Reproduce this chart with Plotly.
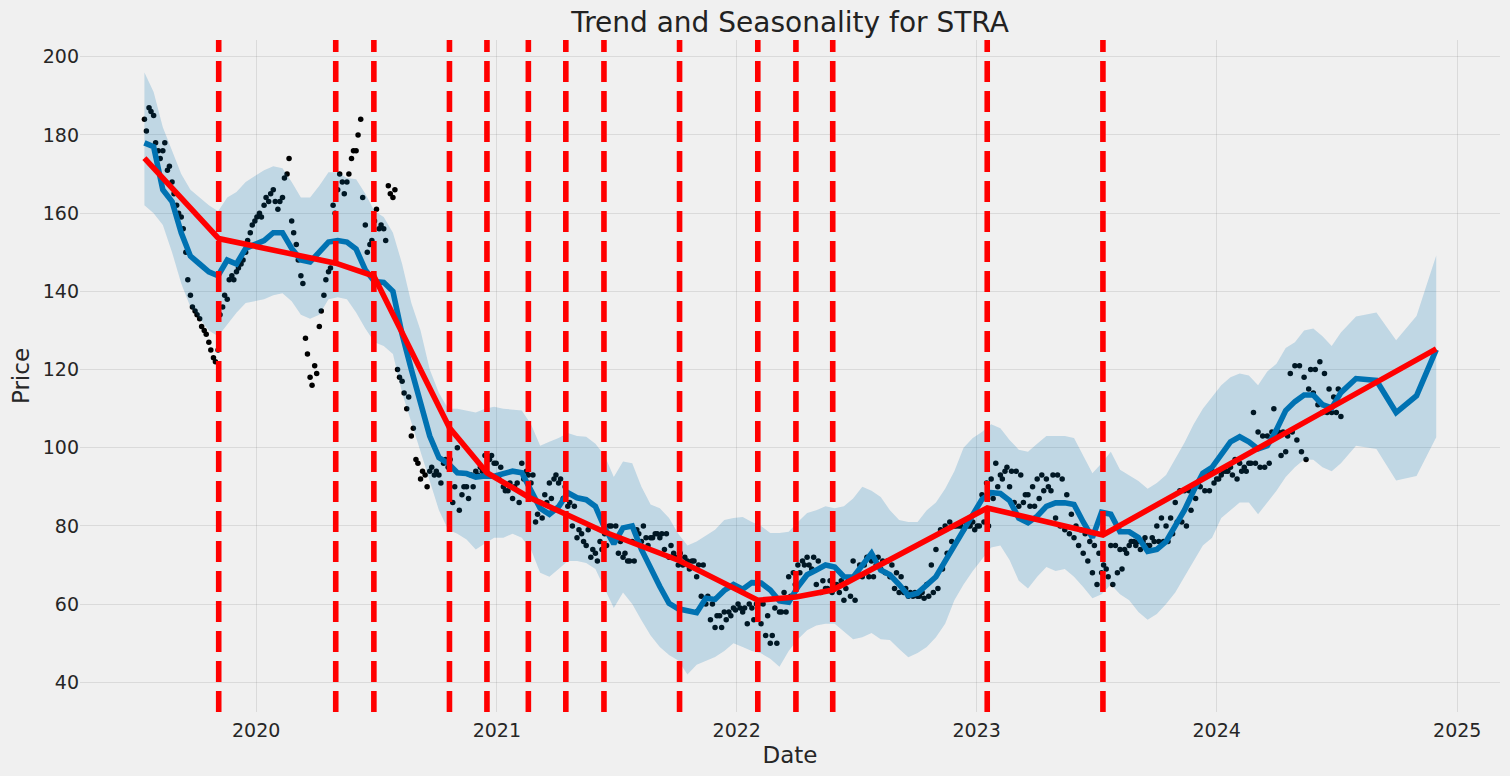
import pandas as pd
import plotly.graph_objects as go

# ---------------- data ----------------
history_start = "2019-07-15"
midweek_start = "2019-07-18"

# observed closing prices (black dots), one reading per week ...
observed_price = [
    184, 187, 185, 176, 176, 171, 168, 162, 159, 150,
    139, 135, 133, 130, 127, 123, 125, 136, 138, 144,
    145, 147, 150, 155, 158, 160, 162, 163, 166, 161,
    164, 170, 158, 152, 144, 128, 118, 121, 131, 139,
    145, 162, 166, 168, 168, 174, 176, 184, 157, 152,
    158, 156, 156, 167, 164, 120, 117, 110, 103, 97,
    92, 93, 94, 93, 93, 96, 95, 86, 100, 88,
    90, 93, 94, 95, 98, 97, 96, 92, 90, 89,
    87, 91, 96, 94, 91, 81, 86, 88, 91, 92,
    91, 87, 85, 80, 77, 78, 75, 72, 73, 76,
    78, 80, 76, 73, 72, 71, 76, 79, 76, 77,
    77, 78, 77, 74, 72, 73, 70, 70, 71, 71,
    67, 62, 60, 56, 54, 57, 58, 58, 59, 60,
    58, 55, 59, 60, 55, 52, 50, 59, 58, 63,
    67, 68, 70, 71, 72, 69, 65, 63, 64, 66,
    65, 63, 61, 66, 71, 68, 67, 72, 71, 70,
    69, 68, 67, 64, 63, 63, 62, 62, 62, 63,
    65, 70, 74, 79, 80, 81, 80, 80, 79, 80,
    81, 80, 88, 91, 92, 96, 93, 94, 90, 86,
    85, 86, 88, 90, 92, 93, 92, 89, 82, 80,
    79, 78, 77, 75, 73, 71, 68, 65, 68, 69,
    75, 75, 74, 74, 75, 76, 76, 76, 75, 77,
    80, 82, 80, 82, 86, 89, 89, 89, 90, 91,
    93, 94, 94, 92, 93, 94, 95, 97, 96, 95,
    96, 109, 104, 103, 103, 104, 103, 98, 99, 119,
    121, 121, 118, 115, 114, 111, 109, 109, 109, 109,
    108,
]
# ... and a second reading in the middle of each week
observed_price_midweek = [
    181, 186, 178, 174, 178, 172, 165, 160, 156, 143,
    136, 134, 131, 129, 125, 122, 134, 139, 143, 143,
    146, 148, 153, 157, 159, 159, 164, 165, 163, 163,
    169, 174, 155, 148, 142, 124, 116, 119, 135, 143,
    146, 160, 170, 165, 170, 176, 180, 164, 150, 153,
    161, 157, 153, 165, 166, 118, 114, 113, 105, 96,
    94, 90, 95, 94, 91, 97, 97, 90, 84, 90,
    87, 90, 93, 94, 98, 98, 96, 95, 89, 91,
    90, 86, 92, 93, 93, 83, 82, 86, 87, 93,
    92, 90, 86, 85, 79, 76, 79, 74, 71, 74,
    75, 80, 80, 76, 73, 71, 71, 78, 80, 75,
    77, 78, 78, 78, 75, 72, 73, 72, 69, 71,
    70, 70, 62, 60, 57, 54, 56, 57, 58.5, 59,
    59, 60, 56, 60, 60, 57, 52, 50, 58, 58,
    62, 65, 68, 70, 70, 72, 71, 66, 64, 63,
    65, 66, 64, 62, 61, 70, 70, 67, 67, 72,
    71, 71, 70, 68, 67, 64, 63, 63, 62, 61.5,
    62, 63, 64, 69, 73, 76, 80, 80, 81, 80,
    79, 80, 81, 80, 87, 90, 92, 95, 94, 94,
    93, 88, 85, 85, 87, 89, 90, 93, 93, 92,
    88, 83, 80, 79, 78, 76, 75, 73, 70, 67,
    65, 68, 69, 73, 76, 75, 74, 77, 75, 76,
    76, 76, 76, 78, 81, 81, 80, 84, 87, 90,
    89, 89, 91, 92, 94, 94, 93, 92, 94, 94,
    96, 96, 95, 95, 96, 110, 104, 104, 103, 104,
    102, 99, 97, 120, 120, 122, 119, 115, 113, 115,
]

# fitted model (blue line) and uncertainty band, every two weeks over the history
yhat_history = [
    178, 177, 166, 163, 155, 149, 147, 145, 144, 148,
    147, 151, 152, 153, 155, 155, 151, 148, 147.5, 150,
    152.6, 153, 152.6, 150.8, 145.5, 142.5, 142.3, 140, 129, 120,
    111.5, 103, 97.5, 96, 93.6, 93.4, 92.5, 92.8, 92.7, 93.3,
    94, 93.6, 89, 84.5, 83, 84.9, 88.5, 87.2, 86.7, 85,
    79.5, 75.4, 79.5, 80, 74, 69, 64.5, 60.2, 58.8, 58.3,
    57.8, 61.5, 61.2, 63.5, 65, 63.8, 65.5, 65.4, 63.6, 60.8,
    60.5, 64.4, 67.5, 68.7, 70, 69.5, 67, 66.9, 70, 73,
    68.7, 67.5, 65, 62.2, 62.8, 65, 67, 71, 75, 79.5,
    83.5, 86.8, 88.5, 88.3, 86.5, 82, 80.8, 82.5, 85, 85.9,
    85.9, 85.5, 81, 77, 83.5, 83, 78.5, 78.5, 77, 73.5,
    74, 76, 80, 84, 89, 93.5, 95, 98, 101.5, 102.8,
    101.5, 99.7, 100.5, 104.6, 109.5, 111.8, 113.5, 113.5, 111, 110.2,
    114.1,
]
upper_history = [
    196, 191, 182, 176, 170, 166, 164, 162, 160.5, 164,
    165.4, 168, 169.5, 171, 172, 171.5, 168, 164, 164, 167,
    170.5, 170.5, 169, 168.7, 165, 160.5, 159, 155, 147, 137,
    130, 120, 114, 110, 110, 109.5, 109, 110, 110.5, 110,
    109.7, 109.5, 106, 100.5, 101.5, 102.5, 103.8, 103, 102.8, 101,
    98, 92.5, 96.5, 96, 90, 85.5, 84.5, 82, 78, 75,
    76, 77.5, 79, 81.5, 82, 82.3, 81, 80, 78.2, 78.2,
    78.5, 81, 83.3, 84, 85, 84.5, 85, 87, 90, 89,
    87.4, 84, 81.5, 81, 81, 84, 86, 89.5, 94, 100,
    102.5, 104, 106, 105, 102, 99.5, 99, 101, 103, 103,
    103, 102.5, 98, 93.5, 96, 99, 94.4, 93, 91.5, 89.5,
    91, 93, 97, 101.3, 106, 110, 113, 116, 118, 119,
    118.5, 116, 119.5, 121.5, 125.5, 127, 130, 130.5, 128.5, 126,
    129.5,
]
lower_history = [
    162, 160, 157, 150, 142, 136, 133, 130, 128.5, 131.5,
    134.5, 137, 137.5, 138, 139, 139.5, 137.5, 134, 133, 134,
    138, 138.5, 138, 134.6, 130.5, 127, 126, 124, 114, 106.5,
    99, 91, 84, 79, 78, 76.5, 74, 75.5, 77, 77,
    78, 77, 74, 68, 67, 69, 71, 71, 70.5, 69,
    64, 59, 63, 60, 55.9, 52, 49, 47, 45.6, 42,
    44.5, 45.5, 46.5, 48, 50, 49, 48, 47.4, 46, 44,
    48, 51, 53.3, 54.5, 55, 55, 53, 51, 51.5, 52.6,
    51, 50.8, 48.5, 46.4, 47.5, 49, 51.5, 55, 61, 65,
    68.5, 71.5, 74.5, 75, 71.3, 66, 64, 67, 69.5, 68.5,
    69, 67, 64.4, 61.5, 62.5, 65, 62.5, 61, 58, 56,
    57.5, 60, 63, 67, 71, 75, 77, 82, 84, 86,
    86, 83, 86, 89, 92.5, 95, 97, 96.9, 95, 94,
    96,
]

# monthly forecast beyond the history
future_dates = ["2024-07-31", "2024-08-31", "2024-09-30", "2024-10-31", "2024-11-30"]
yhat_future = [117.7, 117.2, 109.0, 113.3, 125.1]
upper_future = [133.6, 134.6, 127.5, 133.7, 149.2]
lower_future = [100.5, 99.7, 91.6, 92.8, 102.7]

# trend (piecewise linear) and its changepoints
changepoint_dates = [
    "2019-11-05", "2020-05-01", "2020-06-28", "2020-10-21", "2020-12-17",
    "2021-02-18", "2021-04-16", "2021-06-13", "2021-10-06", "2022-02-02",
    "2022-04-01", "2022-05-27", "2023-01-17", "2023-07-12",
]
trend_at_changepoints = [153.5, 147.2, 143.9, 105.1, 93.6, 87.4, 82.8, 78.5,
                         71.1, 61.0, 61.8, 63.6, 84.6, 77.7]
trend_start_date, trend_start_value = "2019-07-15", 174.1
trend_end_date, trend_end_value = "2024-11-30", 125.3

year_ticks = [2020, 2021, 2022, 2023, 2024, 2025]
price_ticks = [40, 60, 80, 100, 120, 140, 160, 180, 200]

x_range = ["2019-04-08", "2025-03-07"]
y_range = [32.4, 204.3]

# ---------------- build series ----------------
obs_dates = list(pd.date_range(history_start, periods=len(observed_price), freq="7D")) + \
    list(pd.date_range(midweek_start, periods=len(observed_price_midweek), freq="7D"))
obs_values = observed_price + observed_price_midweek
model_dates = list(pd.date_range(history_start, periods=len(yhat_history), freq="14D")) + \
    list(pd.to_datetime(future_dates))
yhat = yhat_history + yhat_future
upper = upper_history + upper_future
lower = lower_history + lower_future
trend_dates = [trend_start_date] + changepoint_dates + [trend_end_date]
trend_values = [trend_start_value] + trend_at_changepoints + [trend_end_value]

BLUE = "#0072B2"
LW = 5.6

fig = go.Figure()
fig.add_trace(go.Scatter(x=obs_dates, y=obs_values, mode="markers",
                         marker=dict(color="black", size=5.5, line=dict(width=0)),
                         showlegend=False))
fig.add_trace(go.Scatter(x=model_dates, y=yhat, mode="lines",
                         line=dict(color=BLUE, width=LW), showlegend=False))
fig.add_trace(go.Scatter(x=model_dates, y=upper, mode="lines", line=dict(width=0, color=BLUE),
                         hoverinfo="skip", showlegend=False))
fig.add_trace(go.Scatter(x=model_dates, y=lower, mode="lines", line=dict(width=0, color=BLUE),
                         fill="tonexty", fillcolor="rgba(0,114,178,0.2)", showlegend=False))
fig.add_trace(go.Scatter(x=pd.to_datetime(trend_dates), y=trend_values, mode="lines",
                         line=dict(color="red", width=LW), showlegend=False))

for cp in changepoint_dates:
    fig.add_shape(type="line", xref="x", yref="paper", x0=cp, x1=cp, y0=0, y1=1,
                  line=dict(color="red", width=LW, dash="21px,9px"), layer="above")

grid = "rgba(128,128,128,0.2)"
fig.update_layout(
    template="none",
    width=1510, height=776,
    margin=dict(l=80, r=10, t=40, b=64, autoexpand=False),
    paper_bgcolor="#f0f0f0", plot_bgcolor="#f0f0f0",
    showlegend=False,
    font=dict(family="DejaVu Sans", color="#262626"),
    title=dict(text="Trend and Seasonality for STRA", font=dict(size=28, color="#222222"),
               x=0.5, xref="paper", xanchor="center",
               y=1 - 22 / 776, yref="container", yanchor="middle"),
    xaxis=dict(range=x_range, automargin=False, showgrid=True, gridcolor=grid, gridwidth=1,
               zeroline=False, showline=False, ticks="", ticklabelstandoff=5,
               tickvals=[f"{y}-01-01" for y in year_ticks], ticktext=[str(y) for y in year_ticks],
               tickfont=dict(size=19),
               title=dict(text="Date", font=dict(size=23), standoff=6)),
    yaxis=dict(range=y_range, automargin=False, showgrid=True, gridcolor=grid, gridwidth=1,
               zeroline=False, showline=False, ticks="", tickvals=price_ticks,
               tickfont=dict(size=19),
               title=dict(text="Price", font=dict(size=23), standoff=6)),
)

fig.write_html("out.html", config={"displayModeBar": False},
               post_script="document.body.style.margin='0';document.body.style.overflow='hidden';")
